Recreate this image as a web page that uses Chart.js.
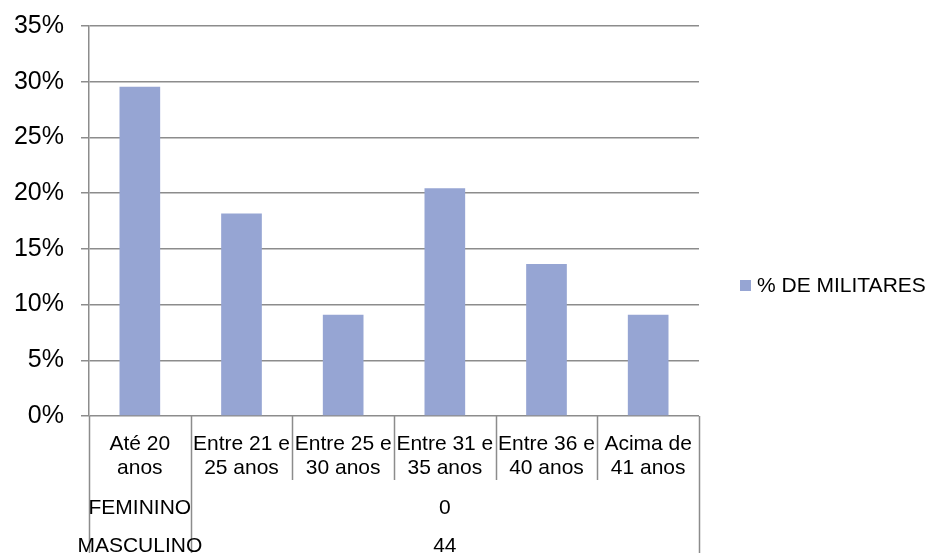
<!DOCTYPE html>
<html>
<head>
<meta charset="utf-8">
<script src="https://cdn.jsdelivr.net/npm/chart.js@4/dist/chart.umd.min.js"></script>
<style>
  html, body { margin: 0; padding: 0; background: #fff; }
  canvas { display: block; }
</style>
</head>
<body>
<canvas id="c" width="930" height="553"></canvas>
<script>
// Age bands of the military staff
const categories = [
  ['Até 20', 'anos'],
  ['Entre 21 e', '25 anos'],
  ['Entre 25 e', '30 anos'],
  ['Entre 31 e', '35 anos'],
  ['Entre 36 e', '40 anos'],
  ['Acima de', '41 anos']
];
// Share of staff in each band
const pctMilitares = [0.2955, 0.1818, 0.0909, 0.2045, 0.1364, 0.0909];
const seriesLabel = '% DE MILITARES';
// Data table rows under the axis
const tableRows = ['FEMININO', 'MASCULINO'];
const tableValues = ['0', '44'];
// Y axis
const yTicks = [0, 0.05, 0.10, 0.15, 0.20, 0.25, 0.30, 0.35];

const FONT = "'Liberation Sans', Arial, sans-serif";
const GRID = '#8c8c8c';
const BAR = '#96A5D3';

const tablePlugin = {
  id: 'tableAndLegend',
  afterDraw(chart) {
    const { ctx, scales: { x, y } } = chart;
    const H = chart.height;
    const n = categories.length;
    const bounds = [];
    for (let i = 0; i <= n; i++) {
      if (i === 0) bounds.push(x.left);
      else if (i === n) bounds.push(x.right);
      else bounds.push((x.getPixelForValue(i - 1) + x.getPixelForValue(i)) / 2);
    }
    ctx.save();
    ctx.strokeStyle = GRID;
    ctx.lineWidth = 1.5;
    ctx.beginPath();
    bounds.forEach((b, i) => {
      const px = Math.round(b) + 0.5;
      const endY = (i === 0 || i === 1 || i === n) ? H : y.bottom + 64;
      ctx.moveTo(px, y.bottom);
      ctx.lineTo(px, endY);
    });
    ctx.stroke();

    // table texts
    ctx.fillStyle = '#000';
    ctx.font = '21px ' + FONT;
    ctx.textAlign = 'center';
    ctx.textBaseline = 'middle';
    const rowY = [y.bottom + 92, y.bottom + 130];
    const labelX = (bounds[0] + bounds[1]) / 2;
    const valueX = (bounds[1] + bounds[n]) / 2;
    tableRows.forEach((r, i) => {
      ctx.fillText(r, labelX, rowY[i]);
      ctx.fillText(tableValues[i], valueX, rowY[i]);
    });

    // legend
    const lx = 740, ly = 285;
    ctx.fillStyle = BAR;
    ctx.fillRect(lx, ly - 5, 11, 11);
    ctx.fillStyle = '#000';
    ctx.textAlign = 'left';
    ctx.fillText(seriesLabel, lx + 17, ly + 1);
    ctx.restore();
  }
};

new Chart(document.getElementById('c'), {
  type: 'bar',
  data: {
    labels: categories,
    datasets: [{
      label: seriesLabel,
      data: pctMilitares,
      backgroundColor: BAR,
      borderWidth: 0,
      barPercentage: 0.4,
      categoryPercentage: 1.0
    }]
  },
  options: {
    responsive: false,
    animation: false,
    layout: { padding: { top: 26, right: 231, left: 0, bottom: 0 } },
    plugins: { legend: { display: false }, tooltip: { enabled: false } },
    scales: {
      x: {
        grid: { display: false, drawTicks: false },
        border: { display: false },
        ticks: {
          color: '#000',
          padding: 16,
          maxRotation: 0,
          autoSkip: false,
          font: { family: FONT, size: 21, lineHeight: 1.143 }
        },
        afterFit(s) { s.height = 137; }
      },
      y: {
        min: 0,
        max: 0.35,
        afterBuildTicks(s) { s.ticks = yTicks.map(v => ({ value: v })); },
        grid: { color: GRID, lineWidth: 1.5, tickLength: 8 },
        border: { color: GRID, width: 1.5 },
        ticks: {
          color: '#000',
          padding: 17,
          font: { family: FONT, size: 25, lineHeight: 1.0 },
          callback: v => Math.round(v * 100) + '%'
        },
        afterFit(s) {
          s.width = 89;
          s.paddingTop = 0;
          s.paddingBottom = 0;
        }
      }
    }
  },
  plugins: [tablePlugin]
});
</script>
</body>
</html>
